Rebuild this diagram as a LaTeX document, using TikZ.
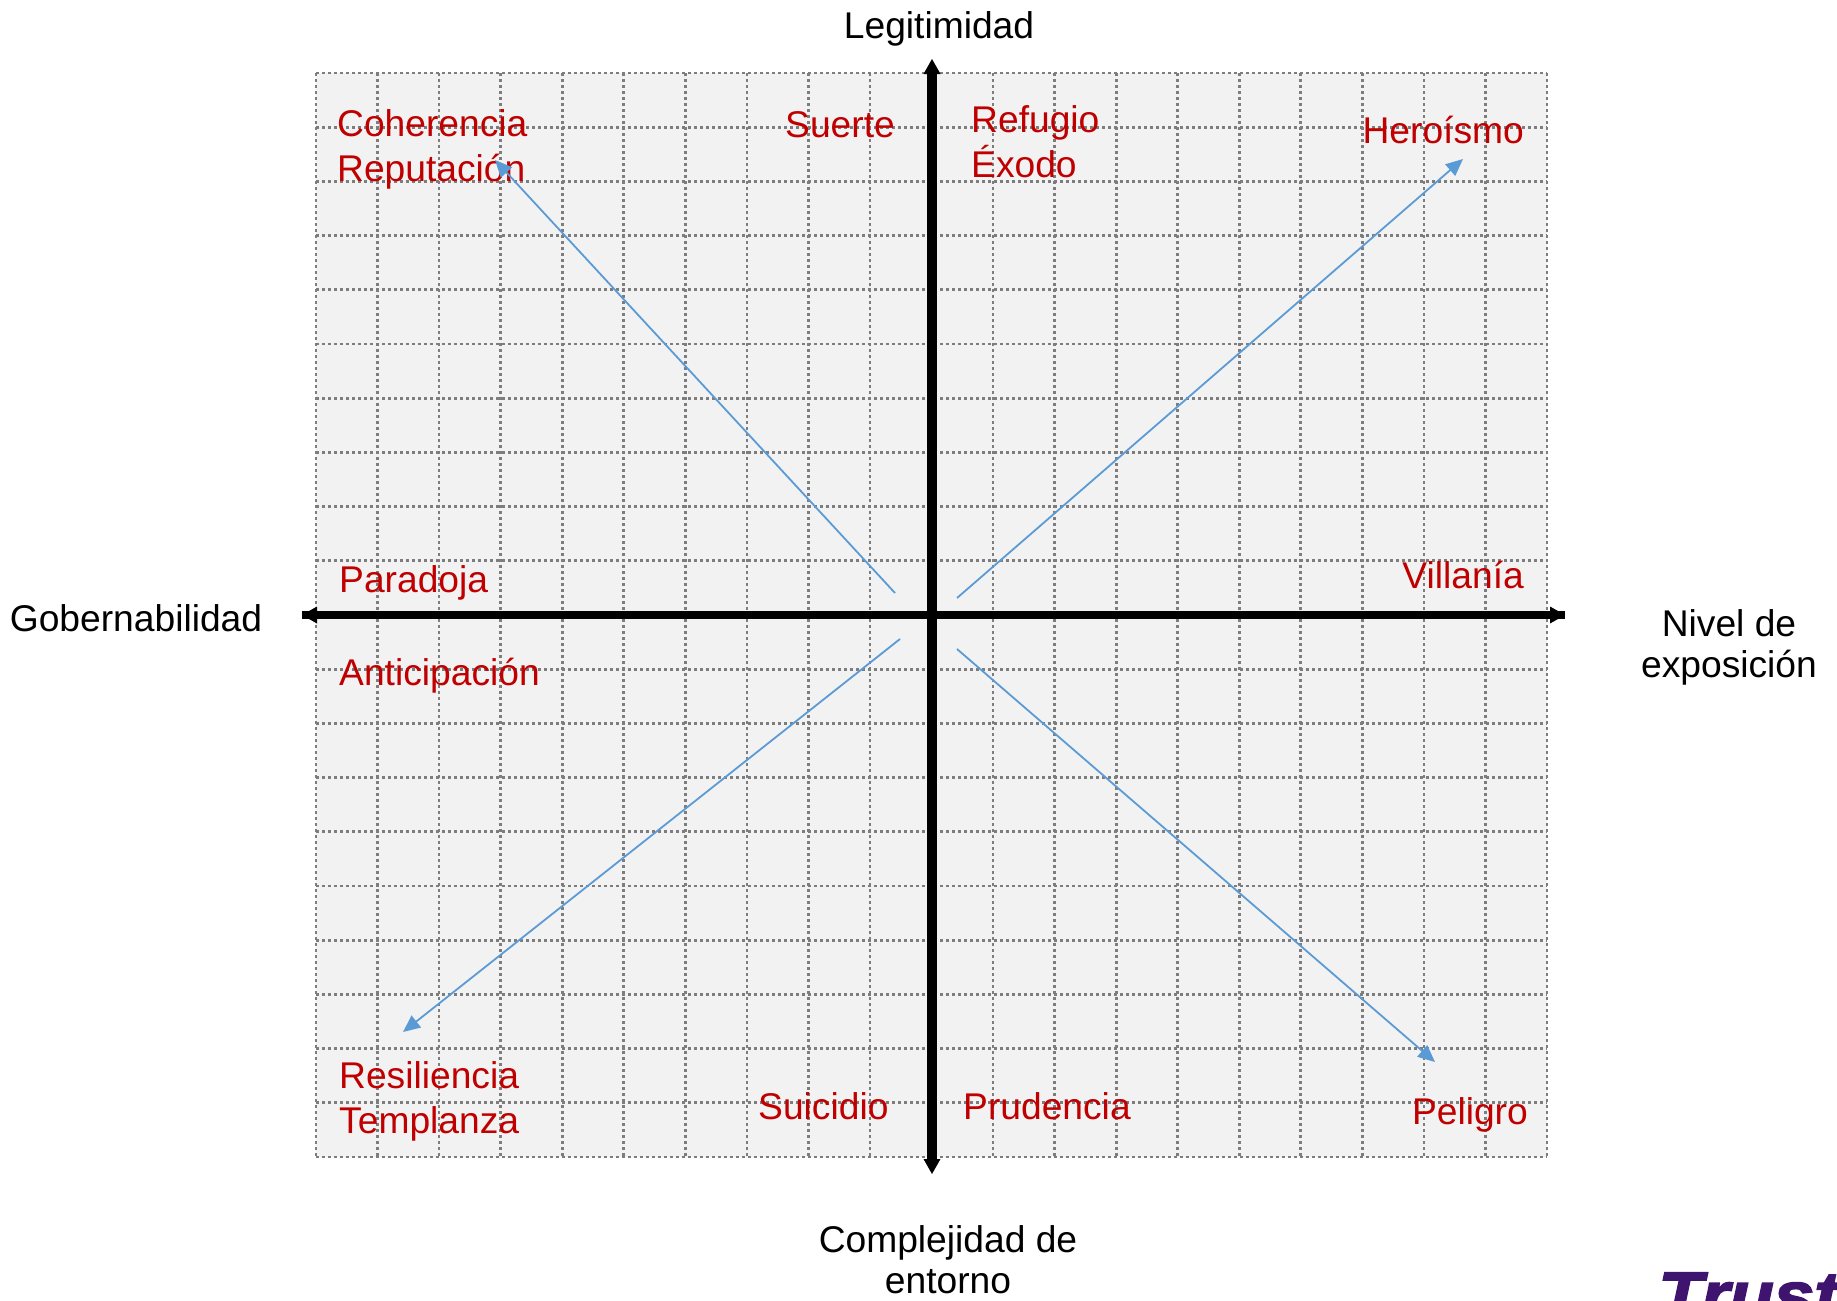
\documentclass[tikz,border=0pt]{standalone}
\usepackage{fontspec}
\setmainfont{Liberation Sans}
\newfontfamily\trustfont[BoldItalicFeatures={FakeBold=2.5,FakeStretch=1.1}]{Liberation Sans}
\usetikzlibrary{arrows.meta}
\usetikzlibrary{positioning}

\definecolor{gridfill}{RGB}{242,242,242}
\definecolor{gridline}{RGB}{125,125,125}
\definecolor{redlabel}{RGB}{192,0,0}
\definecolor{bluearrow}{RGB}{91,155,213}
\definecolor{trustpurple}{RGB}{62,20,110}

\tikzset{
  gridrule/.style={draw=gridline,line width=2.7pt,dash pattern=on 3pt off 3pt},
  axisend/.style={fill=black},
  axislabel/.style={inner sep=0pt,font=\fontsize{37.2}{41}\selectfont,align=center,text=black},
  quadlabel/.style={inner sep=0pt,font=\fontsize{37.2}{44.5}\selectfont,align=left,text=redlabel},
  trendline/.style={draw=bluearrow,line width=1.8pt,-{Triangle[length=17pt,width=15pt]}}
}

\begin{document}
\begin{tikzpicture}[x=1pt,y=-1pt]

  \useasboundingbox (0,0) rectangle (1837,1301);

  \fill [gridfill] (316,73) rectangle (1547,1157);

  \foreach \i in {0,...,20} {
    \draw [gridrule] ({316+61.55*\i},73) -- ({316+61.55*\i},1157);
    \draw [gridrule] (316,{73+54.2*\i}) -- (1547,{73+54.2*\i});
  }

  \coordinate (west_end) at (302,615);
  \coordinate (east_end) at (1565,615);
  \coordinate (north_end) at (932,59);
  \coordinate (south_end) at (932,1174);

  \draw [line width=8pt] (west_end) -- (east_end);
  \draw [line width=10pt] ([yshift=-10pt]north_end) -- ([yshift=10pt]south_end);

  \path [axisend] (west_end) -- ++(15,-8.5) -- ++(0,17) -- cycle;
  \path [axisend] (east_end) -- ++(-15,-8.5) -- ++(0,17) -- cycle;
  \path [axisend] (north_end) -- ++(-8.5,15) -- ++(17,0) -- cycle;
  \path [axisend] (south_end) -- ++(-8.5,-15) -- ++(17,0) -- cycle;

  \node [axislabel,anchor=base] (legitimidad) at (939,38) {Legitimidad};
  \node [axislabel,anchor=base] (gobernabilidad) at (136,631) {Gobernabilidad};
  \node [axislabel] (exposicion) at (1729,647) {Nivel de\\exposición};
  \node [axislabel] (complejidad) at (948,1260) {Complejidad de\\entorno};

  \node [quadlabel,anchor=base west] (coherencia) at (337,181) {Coherencia\\Reputación};
  \node [quadlabel,anchor=base west] (suerte) at (785,137) {Suerte};
  \node [quadlabel,anchor=base west] (refugio) at (971,177) {Refugio\\Éxodo};
  \node [quadlabel,anchor=base east] (heroismo) at (1524,143) {Heroísmo};
  \node [quadlabel,anchor=base west] (paradoja) at (339,592) {Paradoja};
  \node [quadlabel,anchor=base east] (villania) at (1524,588) {Villanía};
  \node [quadlabel,anchor=base west] (anticipacion) at (339,685) {Anticipación};
  \node [quadlabel,anchor=base west] (resiliencia) at (339,1133) {Resiliencia\\Templanza};
  \node [quadlabel,anchor=base west] (suicidio) at (758,1119) {Suicidio};
  \node [quadlabel,anchor=base west] (prudencia) at (963,1119) {Prudencia};
  \node [quadlabel,anchor=base east] (peligro) at (1528,1124) {Peligro};

  \coordinate (nw_start) at (895,593);
  \coordinate (ne_start) at (957,598);
  \coordinate (sw_start) at (900,639);
  \coordinate (se_start) at (957,649);
  \coordinate (nw_tip) at (495,160);
  \coordinate (ne_tip) at (1463,159);
  \coordinate (sw_tip) at (403,1032);
  \coordinate (se_tip) at (1435,1062);

  \path [trendline] (nw_start) -- (nw_tip);
  \path [trendline] (ne_start) -- (ne_tip);
  \path [trendline] (sw_start) -- (sw_tip);
  \path [trendline] (se_start) -- (se_tip);

  \begin{scope}
    \clip (0,0) rectangle (1837,1301);
    \node [inner sep=0pt,anchor=base west,text=trustpurple,font=\fontsize{66}{66}\selectfont\trustfont\bfseries\itshape] (trust) at (1658,1318) {Trust};
  \end{scope}

\end{tikzpicture}
\end{document}
